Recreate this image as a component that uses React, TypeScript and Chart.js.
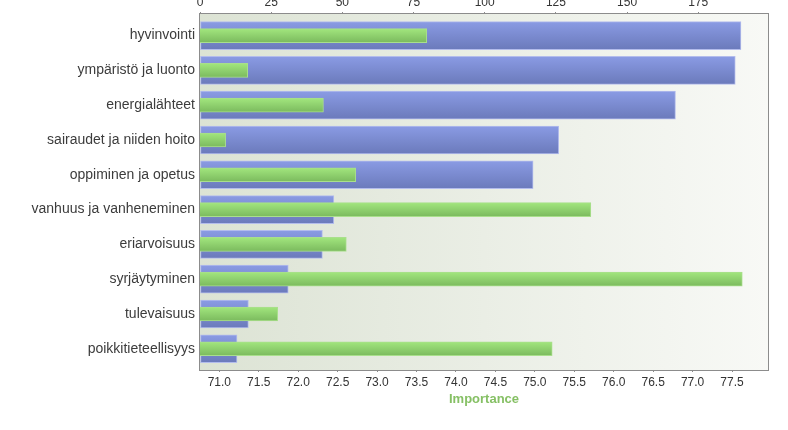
import React, { useEffect, useRef } from "react";
import { Chart, registerables } from "chart.js";

Chart.register(...registerables);

const categories = [
  "hyvinvointi",
  "ympäristö ja luonto",
  "energialähteet",
  "sairaudet ja niiden hoito",
  "oppiminen ja opetus",
  "vanhuus ja vanheneminen",
  "eriarvoisuus",
  "syrjäytyminen",
  "tulevaisuus",
  "poikkitieteellisyys",
];

// top axis (count)
const countValues = [190, 188, 167, 126, 117, 47, 43, 31, 17, 13];
// bottom axis (Importance)
const importanceValues = [73.63, 71.36, 72.32, 71.08, 72.73, 75.71, 72.61, 77.63, 71.74, 75.22];

const countTicks = [0, 25, 50, 75, 100, 125, 150, 175];
const importanceTicks = [71.0, 71.5, 72.0, 72.5, 73.0, 73.5, 74.0, 74.5, 75.0, 75.5, 76.0, 76.5, 77.0, 77.5];

const FONT = "'Liberation Sans', Arial, sans-serif";

function barGradient(ctx: any, half: number, top: string, bottom: string, fallback: string) {
  const chart = ctx.chart;
  const y = chart.scales && chart.scales.y;
  if (!y || ctx.dataIndex === undefined || !chart.chartArea) return fallback;
  const c = y.getPixelForValue(ctx.dataIndex);
  const g = chart.ctx.createLinearGradient(0, c - half, 0, c + half);
  g.addColorStop(0, top);
  g.addColorStop(1, bottom);
  return g;
}

const plotDecor = {
  id: "plotDecor",
  beforeDraw(chart: any) {
    const { ctx, chartArea: a } = chart;
    ctx.save();
    const g = ctx.createLinearGradient(a.left, 0, a.right, 0);
    g.addColorStop(0, "#dce3d4");
    g.addColorStop(1, "#f8f9f6");
    ctx.fillStyle = g;
    ctx.fillRect(a.left, a.top, a.right - a.left, a.bottom - a.top);
    ctx.restore();
  },
  afterDraw(chart: any) {
    const { ctx, chartArea: a } = chart;
    ctx.save();
    ctx.strokeStyle = "#8c8c8c";
    ctx.lineWidth = 1;
    ctx.strokeRect(Math.round(a.left) - 0.5, Math.round(a.top) - 0.5, Math.round(a.right - a.left) + 1, Math.round(a.bottom - a.top) + 1);
    ctx.restore();
  },
};

export default function App() {
  const ref = useRef<HTMLCanvasElement | null>(null);

  useEffect(() => {
    if (!ref.current) return;
    const chart = new Chart(ref.current, {
      type: "bar",
      data: {
        datasets: [
          {
            label: "count",
            data: countValues.map((v, i) => ({ x: v, y: i })),
            xAxisID: "x2",
            yAxisID: "y",
            barThickness: 28,
            grouped: false,
            order: 2,
            borderWidth: 1,
            borderColor: "#b3bcec",
            borderSkipped: false,
            backgroundColor: (c: any) => barGradient(c, 14, "#8a9be4", "#6b7abb", "#7b8bd0"),
          },
          {
            label: "Importance",
            data: importanceValues.map((v, i) => ({ x: v, y: i })),
            xAxisID: "x",
            yAxisID: "y",
            barThickness: 14,
            grouped: false,
            order: 1,
            borderWidth: 1,
            borderColor: "#a9df8c",
            borderSkipped: false,
            backgroundColor: (c: any) => barGradient(c, 7, "#a2e67e", "#7bba5e", "#8fd06e"),
          },
        ],
      },
      options: {
        indexAxis: "y",
        responsive: false,
        animation: false,
        devicePixelRatio: 1,
        layout: { padding: { left: 0, right: 20, top: 0, bottom: 0 } },
        plugins: {
          legend: { display: false },
          tooltip: { enabled: false },
        },
        scales: {
          y: {
            type: "linear",
            position: "left",
            reverse: true,
            offset: false,
            min: -0.62,
            max: 9.61,
            afterBuildTicks: (s: any) => {
              s.ticks = categories.map((_, i) => ({ value: i }));
            },
            afterFit: (s: any) => {
              s.width = 200;
            },
            grid: { display: false, drawTicks: false, offset: false },
            border: { display: false },
            ticks: {
              autoSkip: false,
              padding: 5,
              color: "#3c3c3c",
              font: { family: FONT, size: 14 },
              callback: (v: any) => categories[v as number] ?? "",
            },
          },
          x2: {
            type: "linear",
            position: "top",
            min: 0,
            max: 199.5,
            afterBuildTicks: (s: any) => {
              s.ticks = countTicks.map((v) => ({ value: v }));
            },
            afterFit: (s: any) => {
              s.height = 14;
            },
            grid: { display: true, drawOnChartArea: false, drawTicks: true, tickLength: 2, color: "#8c8c8c" },
            border: { display: false },
            ticks: {
              padding: 2,
              maxRotation: 0,
              color: "#333333",
              font: { family: FONT, size: 12 },
              callback: (v: any) => String(v),
            },
          },
          x: {
            type: "linear",
            position: "bottom",
            min: 70.755,
            max: 77.956,
            afterBuildTicks: (s: any) => {
              s.ticks = importanceTicks.map((v) => ({ value: v }));
            },
            afterFit: (s: any) => {
              s.height = 60;
            },
            grid: { display: true, drawOnChartArea: false, drawTicks: true, tickLength: 2, color: "#8c8c8c" },
            border: { display: false },
            ticks: {
              padding: 3,
              maxRotation: 0,
              autoSkip: false,
              color: "#333333",
              font: { family: FONT, size: 12 },
              callback: (v: any) => Number(v).toFixed(1),
            },
            title: {
              display: true,
              text: "Importance",
              color: "#86c065",
              font: { family: FONT, size: 13, weight: "bold" },
              padding: { top: 0, bottom: 23 },
            },
          },
        },
      },
      plugins: [plotDecor],
    });
    return () => chart.destroy();
  }, []);

  return (
    <div style={{ position: "fixed", left: 0, top: 0, width: 788, height: 430, background: "#ffffff" }}>
      <canvas ref={ref} width={788} height={430} style={{ display: "block" }} />
    </div>
  );
}
